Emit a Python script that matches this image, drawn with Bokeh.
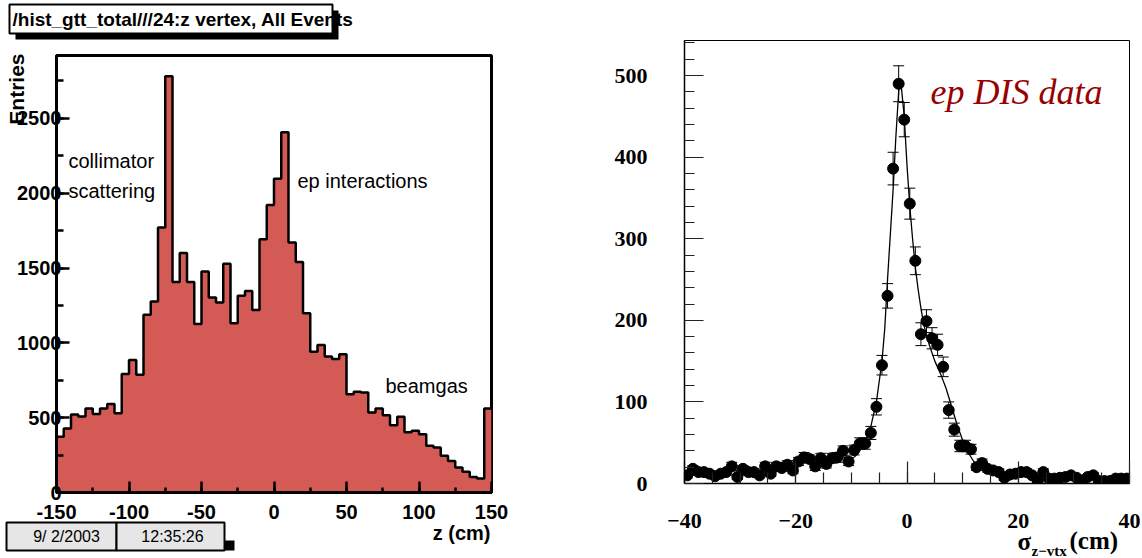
import math
from bokeh.plotting import figure
from bokeh.models import Range1d, SingleIntervalTicker, Label, ColumnDataSource, Whisker, TeeHead, GridBox
from bokeh.embed import file_html
from bokeh.resources import INLINE

# ---------------- data: left panel (z vertex histogram) ----------------
z_bin_start = -150
z_bin_width = 5
z_counts = [373, 428, 522, 507, 562, 525, 562, 591, 529, 792,
            886, 786, 1187, 1277, 1771, 2782, 1406, 1600, 1406, 1126,
            1477, 1303, 1269, 1528, 1131, 1314, 1347, 1220, 1693, 1921,
            2097, 2407, 1671, 1541, 1198, 941, 986, 908, 892, 924,
            656, 673, 669, 535, 562, 517, 450, 506, 402, 412,
            390, 312, 301, 245, 210, 167, 138, 104, 94, 562]
left_texts = ["collimator", "scattering", "ep interactions", "beamgas"]

# ---------------- data: right panel (sigma z-vtx) ----------------
s_bin_start = -40
s_bin_width = 1
s_counts = [10, 18, 14, 14, 12, 9, 12, 14, 21, 8,
            18, 14, 14, 10, 21, 12, 21, 19, 23, 16,
            27, 32, 30, 21, 31, 24, 31, 32, 40, 27,
            41, 49, 49, 62, 94, 145, 230, 386, 490, 446,
            343, 273, 183, 199, 178, 170, 143, 90, 66, 46,
            46, 42, 20, 25, 18, 16, 14, 7, 11, 12,
            14, 14, 10, 3, 14, 6, 6, 7, 8, 10,
            7, 3, 8, 10, 3, 3, 3, 6, 6, 6]
s_errors = [3, 4, 4, 4, 3, 3, 3, 4, 5, 3,
            4, 4, 4, 3, 5, 3, 5, 4, 5, 4,
            5, 6, 5, 5, 6, 5, 6, 6, 6, 5,
            6, 7, 7, 8, 10, 12, 15, 20, 22, 21,
            19, 17, 14, 14, 13, 13, 12, 10, 8, 7,
            7, 6, 4, 5, 4, 4, 4, 3, 3, 3,
            4, 4, 3, 2, 4, 2, 2, 3, 3, 3,
            3, 2, 3, 3, 2, 2, 2, 2, 2, 2]
fit_x = [-9.5, -8.5, -7.5, -6.5, -6.0, -5.5, -5.0, -4.5, -4.0, -3.5, -3.0, -2.5,
         -2.0, -1.5, -1.3, -1.0, -0.5, 0.0, 0.5, 1.0, 1.5, 2.0, 2.5, 3.0, 4.0,
         5.0, 6.0, 7.0, 7.5, 8.0, 9.0, 10.0, 11.0, 12.0, 13.0]
fit_y = [32, 40, 52, 70, 85, 100, 125, 150, 190, 250, 305, 360,
         425, 480, 492, 485, 450, 390, 340, 300, 265, 238, 215, 195, 170,
         150, 135, 117, 106, 95, 72, 53, 38, 27, 20]

W1, W2, H = 568, 574, 558
W = W1 + W2
SANS = "Liberation Sans"
SERIF = "Liberation Serif"

# ================= LEFT FIGURE =================
L_LEFT, L_TOP, L_W, L_H = 56, 55, 435, 437
p1 = figure(width=W1, height=H, x_range=Range1d(-150, 150), y_range=Range1d(0, 2920),
            output_backend="svg", toolbar_location=None,
            min_border_left=L_LEFT, min_border_right=W1 - L_LEFT - L_W,
            min_border_top=L_TOP, min_border_bottom=H - L_TOP - L_H)
p1.frame_align = False
p1.xgrid.visible = False
p1.ygrid.visible = False
p1.outline_line_color = "black"
p1.outline_line_width = 3

left_edges = [z_bin_start + i * z_bin_width for i in range(len(z_counts) + 1)]
p1.varea_step(x=left_edges, y1=[0] * len(left_edges), y2=z_counts + [z_counts[-1]],
              step_mode="after", fill_color="#d45a56")
p1.step(left_edges, z_counts + [z_counts[-1]], mode="after", line_color="black", line_width=2.5)

p1.xaxis.ticker = SingleIntervalTicker(interval=50, num_minor_ticks=2)
p1.yaxis.ticker = SingleIntervalTicker(interval=500, num_minor_ticks=2)
for ax in (p1.xaxis[0], p1.yaxis[0]):
    ax.axis_line_width = 3
    ax.axis_line_color = "black"
    ax.major_tick_out = 0
    ax.minor_tick_out = 0
    ax.major_tick_line_width = 2.5
    ax.minor_tick_line_width = 2.5
    ax.major_tick_line_color = "black"
    ax.minor_tick_line_color = "black"
    ax.major_label_text_font = SANS
    ax.major_label_text_font_style = "bold"
    ax.major_label_text_font_size = "20px"
    ax.major_label_text_color = "black"
p1.xaxis[0].major_tick_in = 11
p1.xaxis[0].minor_tick_in = 5
p1.yaxis[0].major_tick_in = 13
p1.yaxis[0].minor_tick_in = 7
p1.xaxis[0].major_label_standoff = 12
p1.yaxis[0].major_label_standoff = -5
p1.xaxis[0].major_label_overrides = {-150: "-150", -100: "-100", -50: "-50"}

def lsx(px):
    return px - L_LEFT
def lsy(py):
    return (L_TOP + L_H) - py

for txt, px, py in [(left_texts[0], 68, 160), (left_texts[1], 68, 190),
                    (left_texts[2], 297, 180), (left_texts[3], 385, 385)]:
    p1.add_layout(Label(x=lsx(px), y=lsy(py), x_units="screen", y_units="screen", text=txt,
                        text_font=SANS, text_font_size="20px", text_color="black",
                        text_baseline="middle", text_align="left"))

# ================= RIGHT FIGURE =================
R_LEFT_PAGE, R_TOP, R_W, R_H = 684, 40, 445, 443
R_LEFT = R_LEFT_PAGE - W1
p2 = figure(width=W2, height=H, x_range=Range1d(-40, 40), y_range=Range1d(0, 543),
            output_backend="svg", toolbar_location=None,
            min_border_left=R_LEFT, min_border_right=W2 - R_LEFT - R_W,
            min_border_top=R_TOP, min_border_bottom=H - R_TOP - R_H)
p2.frame_align = False
p2.xgrid.visible = False
p2.ygrid.visible = False
p2.outline_line_color = "black"
p2.outline_line_width = 1

s_x = [s_bin_start + (i + 0.5) * s_bin_width for i in range(len(s_counts))]
src = ColumnDataSource(dict(x=s_x, y=s_counts,
                            upper=[c + e for c, e in zip(s_counts, s_errors)],
                            lower=[c - e for c, e in zip(s_counts, s_errors)]))
p2.line(fit_x, fit_y, line_color="black", line_width=1.3)
p2.add_layout(Whisker(base="x", upper="upper", lower="lower", source=src, line_color="black",
                      line_width=1,
                      upper_head=TeeHead(size=11, line_color="black", line_width=1),
                      lower_head=TeeHead(size=11, line_color="black", line_width=1)))
p2.scatter("x", "y", source=src, size=11, color="black")

p2.xaxis.ticker = SingleIntervalTicker(interval=20, num_minor_ticks=4)
p2.yaxis.ticker = SingleIntervalTicker(interval=100, num_minor_ticks=5)
for ax in (p2.xaxis[0], p2.yaxis[0]):
    ax.axis_line_width = 1.5
    ax.axis_line_color = "black"
    ax.major_tick_out = 0
    ax.minor_tick_out = 0
    ax.major_tick_line_color = "#222222"
    ax.minor_tick_line_color = "#222222"
    ax.major_tick_line_width = 1.2
    ax.minor_tick_line_width = 1.2
    ax.major_label_text_font = SERIF
    ax.major_label_text_font_style = "bold"
    ax.major_label_text_font_size = "22px"
    ax.major_label_text_color = "black"
p2.xaxis[0].major_tick_in = 22
p2.xaxis[0].minor_tick_in = 11
p2.yaxis[0].major_tick_in = 19
p2.yaxis[0].minor_tick_in = 10
p2.xaxis[0].major_label_standoff = 30
p2.yaxis[0].major_label_standoff = 37
p2.xaxis[0].major_label_overrides = {-40: "\u221240", -20: "\u221220"}

# ================= OVERLAY (page-level texts and boxes) =================
p3 = figure(width=W, height=H, x_range=Range1d(0, W), y_range=Range1d(H, 0),
            x_axis_type=None, y_axis_type=None, output_backend="svg", toolbar_location=None,
            min_border=0, min_border_left=0, min_border_right=0, min_border_top=0, min_border_bottom=0)
p3.frame_align = False
p3.outline_line_color = None
p3.background_fill_alpha = 0
p3.border_fill_alpha = 0

def lab3(**kw):
    kw.setdefault("text_color", "black")
    p3.add_layout(Label(**kw))

# title box with shadow
p3.quad(left=15, right=338, top=10, bottom=39, fill_color="black", line_color=None)
p3.quad(left=9, right=332, top=4, bottom=33, fill_color="white", line_color="black", line_width=2)
lab3(x=12, y=19, text="/hist_gtt_total///24:z vertex, All Events", text_font=SANS,
     text_font_style="bold", text_font_size="19px", text_align="left", text_baseline="middle")

# axis titles
lab3(x=16, y=53, text="Entries", angle=math.pi / 2, text_font=SANS, text_font_style="bold",
     text_font_size="21px", text_align="right", text_baseline="middle")
lab3(x=490, y=532, text="z (cm)", text_font=SANS, text_font_style="bold",
     text_font_size="20px", text_align="right", text_baseline="middle")

# date / time boxes
p3.quad(left=224, right=234, top=540, bottom=550, fill_color="black", line_color=None)
p3.quad(left=6, right=116, top=522, bottom=550, fill_color="#e6e6e6", line_color="black", line_width=2)
p3.quad(left=116, right=224, top=522, bottom=550, fill_color="#e6e6e6", line_color="black", line_width=2)
lab3(x=66, y=536, text="9/ 2/2003", text_font=SANS, text_font_size="16px",
     text_align="center", text_baseline="middle")
lab3(x=172, y=536, text="12:35:26", text_font=SANS, text_font_size="16px",
     text_align="center", text_baseline="middle")

# right panel texts
lab3(x=930, y=91, text="ep DIS data", text_font=SERIF, text_font_style="italic",
     text_font_size="36px", text_color="#990000", text_align="left", text_baseline="middle")
lab3(x=1017, y=541, text="\u03c3", text_font=SERIF, text_font_style="bold",
     text_font_size="25px", text_align="left", text_baseline="middle")
lab3(x=1031, y=550, text="z\u2212vtx", text_font=SERIF, text_font_style="bold",
     text_font_size="15px", text_align="left", text_baseline="middle")
lab3(x=1069, y=540, text="(cm)", text_font=SERIF, text_font_style="bold",
     text_font_size="25px", text_align="left", text_baseline="middle")

layout = GridBox(children=[(p1, 0, 0), (p2, 0, 1), (p3, 0, 0, 1, 2)], spacing=0)
open("out.html", "w").write(file_html(layout, INLINE))
